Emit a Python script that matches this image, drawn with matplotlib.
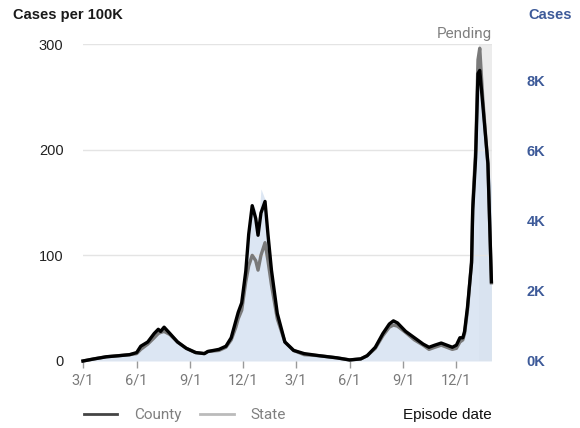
import numpy as np
import pandas as pd
import matplotlib
matplotlib.use('Agg')
import matplotlib.pyplot as plt
import matplotlib.dates as mdates
from matplotlib.ticker import FuncFormatter, FixedLocator

"""
  Cases per 100K (county vs state) with daily case counts
"""

dates = pd.to_datetime([
    '2020-03-01', '2020-03-20', '2020-04-10', '2020-05-01', '2020-05-20',
    '2020-06-01', '2020-06-08', '2020-06-20', '2020-07-01', '2020-07-08',
    '2020-07-12', '2020-07-18', '2020-07-28', '2020-08-10', '2020-08-25',
    '2020-09-10', '2020-09-25', '2020-10-01', '2020-10-20', '2020-11-01',
    '2020-11-10', '2020-11-18', '2020-11-22', '2020-11-28', '2020-12-05',
    '2020-12-10', '2020-12-16', '2020-12-22', '2020-12-26', '2020-12-31',
    '2021-01-07', '2021-01-12', '2021-01-18', '2021-01-28', '2021-02-10',
    '2021-02-25', '2021-03-15', '2021-04-10', '2021-05-10', '2021-06-01',
    '2021-06-20', '2021-07-01', '2021-07-15', '2021-07-28', '2021-08-08',
    '2021-08-15', '2021-08-22', '2021-09-05', '2021-09-20', '2021-10-05',
    '2021-10-15', '2021-10-25', '2021-11-05', '2021-11-24', '2021-12-01',
    '2021-12-07', '2021-12-12', '2021-12-15', '2021-12-20', '2021-12-27',
    '2021-12-29', '2022-01-03', '2022-01-07', '2022-01-10', '2022-01-15',
    '2022-01-24', '2022-01-30'])

county = [0, 2, 4, 5, 6,
          8, 14, 18, 26, 30,
          28, 32, 26, 18, 12,
          8, 7, 9, 11, 14,
          22, 38, 46, 55, 85,
          120, 147, 135, 119, 140,
          151, 120, 86, 45, 18,
          10, 7, 5, 3, 1,
          2, 5, 13, 26, 35,
          38, 36, 28, 22, 16,
          13, 15, 17, 13, 15,
          22, 22, 28, 51, 93,
          143, 193, 272, 275, 244,
          187, 75]

state = [0, 2, 4, 5, 6,
         7, 11, 16, 22, 26,
         27, 28, 25, 18, 12,
         8, 7, 9, 10, 13,
         20, 32, 40, 48, 75,
         90, 100, 95, 86, 100,
         112, 95, 72, 40, 18,
         10, 6, 5, 3, 1,
         2, 5, 12, 24, 32,
         34, 33, 27, 20, 15,
         11, 13, 15, 11, 12,
         18, 20, 26, 48, 95,
         148, 200, 285, 296, 250,
         185, 74]

cases = [0, 60, 120, 150, 180,
         240, 400, 520, 750, 900,
         870, 960, 800, 560, 380,
         260, 220, 300, 330, 420,
         650, 1100, 1350, 1600, 2600,
         3700, 4500, 4300, 3700, 4900,
         4600, 3600, 2600, 1350, 550,
         300, 210, 150, 90, 40,
         60, 150, 400, 780, 1050,
         1150, 1080, 850, 660, 480,
         390, 450, 510, 390, 450,
         660, 660, 840, 1530, 2800,
         4300, 5800, 8200, 9000, 7400,
         5600, 5000]

pending_start = pd.Timestamp('2022-01-08')
x_start = pd.Timestamp('2020-03-01')
x_end = pd.Timestamp('2022-01-31')

fig = plt.figure(figsize=(5.8, 4.28), dpi=100)
ax = fig.add_axes([83/580, 1-361/428, (492-83)/580, (361-44)/428])
ax2 = ax.twinx()
ax.set_zorder(ax2.get_zorder() + 1)
ax.patch.set_visible(False)

# cases area + pending band on the right axis
ax2.axvspan(pending_start, x_end, color='#ececec', zorder=0, lw=0)
ax2.fill_between(dates, cases, color='#d6e2f1', alpha=0.85, lw=0, zorder=1)
ax2.set_ylim(0, 9027)
ax2.yaxis.set_major_locator(FixedLocator([0, 2000, 4000, 6000, 8000]))
ax2.yaxis.set_major_formatter(FuncFormatter(lambda v, p: '%dK' % (v/1000)))
ax2.tick_params(axis='y', length=0, pad=25, labelsize=10.5, labelcolor='#3d5a99')
for lbl in ax2.get_yticklabels():
    lbl.set_fontweight('bold')
    lbl.set_family('Liberation Sans')

# per 100K lines
ax.plot(dates, state, color='#7a7a7a', lw=2.4, zorder=3, clip_on=False)
ax.plot(dates, county, color='#000000', lw=2.4, zorder=4, clip_on=False)
ax.set_ylim(0, 300)
ax.set_xlim(x_start, x_end)
ax.set_yticks([0, 100, 200, 300])
ax.grid(axis='y', color='#e4e4e4', lw=1)
ax.tick_params(axis='y', length=0, pad=14, labelsize=10.5, labelcolor='#222222')
for lbl in ax.get_yticklabels():
    lbl.set_family('Liberation Sans')

ax.xaxis.set_major_locator(mdates.MonthLocator(bymonth=[3, 6, 9, 12]))
ax.xaxis.set_major_formatter(FuncFormatter(
    lambda v, p: '%d/1' % mdates.num2date(v).month))
ax.tick_params(axis='x', length=5, width=1, color='#9a9a9a', pad=4,
               labelsize=10.5, labelcolor='#7a7a7a')
for lbl in ax.get_xticklabels():
    lbl.set_family('Roboto')

for a in (ax, ax2):
    for s in a.spines.values():
        s.set_visible(False)

ax.text(1.0, 1.008, 'Pending', transform=ax.transAxes, ha='right', va='bottom',
        fontsize=11, color='#808080', family='Roboto')

fig.text(13/580, 1-15/428, 'Cases per 100K', fontsize=10.5, fontweight='bold',
         color='#1a1a1a', family='Liberation Sans', va='center', ha='left')
fig.text(528/580, 1-15/428, 'Cases', fontsize=10.5, fontweight='bold',
         color='#3d5a99', family='Liberation Sans', va='center', ha='left')
fig.text(492/580, 1-415/428, 'Episode date', fontsize=11, color='#111111',
         family='Liberation Sans', va='center', ha='right')

h1, = ax.plot([], [], color='#444444', lw=2, label='County')
h2, = ax.plot([], [], color='#bbbbbb', lw=2, label='State')
leg = fig.legend(handles=[h1, h2], loc='center left',
                 bbox_to_anchor=(70/580, 1-415/428), ncol=2, frameon=False,
                 handlelength=2.2, handletextpad=1.1, columnspacing=1.2,
                 prop={'family': 'Roboto', 'size': 11})
for t in leg.get_texts():
    t.set_color('#808080')

fig.savefig('out.png', dpi=100)
